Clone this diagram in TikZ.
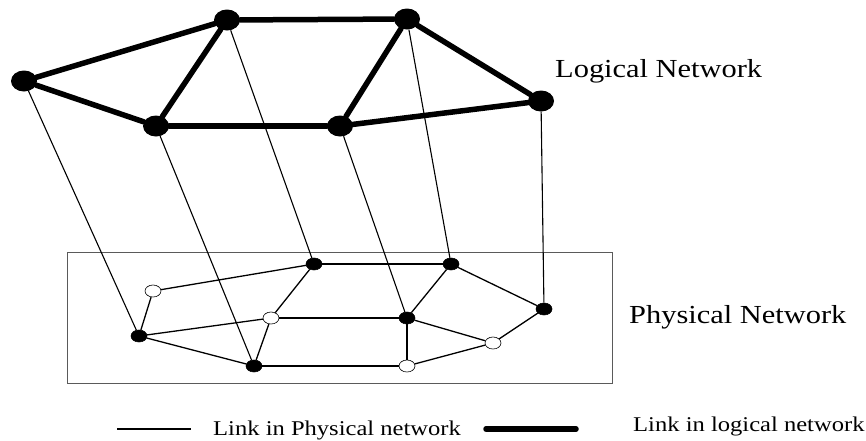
\documentclass[tikz,border=0pt]{standalone}
\usepackage{fontspec}
\setmainfont{Liberation Serif}
\newfontfamily\labelfont[FakeStretch=1.17]{Liberation Serif}
\usepackage{tikz}
\usetikzlibrary{shapes.geometric}
\definecolor{framegray}{RGB}{90,90,90}

\begin{document}
\begin{tikzpicture}[x=1pt,y=-1pt,
    lognode/.style={ellipse, fill=black, minimum width=26pt, minimum height=21pt, inner sep=0pt},
    phynode/.style={ellipse, draw=black, fill=black, line width=0.6pt, minimum width=16pt, minimum height=12pt, inner sep=0pt},
    relaynode/.style={phynode, fill=white},
    loglink/.style={line width=5.5pt, line cap=round},
    phylink/.style={line width=1.3pt},
    maplink/.style={line width=1.1pt},
    netlabel/.style={anchor=base west, inner sep=0pt, font=\labelfont\fontsize{26}{30}\selectfont},
    keylabel/.style={anchor=base west, inner sep=0pt, font=\labelfont\fontsize{21}{25}\selectfont}]
    \useasboundingbox (0,0) rectangle (866,440);

    % physical network frame
    \draw[framegray, line width=1pt] (67,252) rectangle (612,383);

    % logical nodes
    \node[lognode] (L1) at (24,81) {};
    \node[lognode] (L2) at (227,20) {};
    \node[lognode] (L3) at (407,19) {};
    \node[lognode] (L4) at (541,101) {};
    \node[lognode] (L5) at (340,126) {};
    \node[lognode] (L6) at (156,126) {};

    % physical nodes
    \node[phynode] (P1) at (314,264) {};
    \node[phynode] (P2) at (451,264) {};
    \node[relaynode] (P3) at (153,291) {};
    \node[phynode] (P4) at (544,309) {};
    \node[relaynode] (P5) at (271,318) {};
    \node[phynode] (P6) at (407,318) {};
    \node[phynode] (P7) at (139,336) {};
    \node[relaynode] (P8) at (493,343) {};
    \node[phynode] (P9) at (254,366) {};
    \node[relaynode] (P10) at (407,366) {};

    % links in logical network
    \draw[loglink] (L1) -- (L2);
    \draw[loglink] (L2) -- (L3);
    \draw[loglink] (L3) -- (L4);
    \draw[loglink] (L4) -- (L5);
    \draw[loglink] (L5) -- (L6);
    \draw[loglink] (L6) -- (L1);
    \draw[loglink] (L2) -- (L6);
    \draw[loglink] (L3) -- (L5);

    % links in physical network
    \draw[phylink] (P1) -- (P2);
    \draw[phylink] (P3) -- (P1);
    \draw[phylink] (P5) -- (P1);
    \draw[phylink] (P2) -- (P6);
    \draw[phylink] (P2) -- (P4);
    \draw[phylink] (P3) -- (P7);
    \draw[phylink] (P7) -- (P5);
    \draw[phylink] (P7) -- (P9);
    \draw[phylink] (P5) -- (P9);
    \draw[phylink] (P5) -- (P6);
    \draw[phylink] (P6) -- (P10);
    \draw[phylink] (P6) -- (P8);
    \draw[phylink] (P9) -- (P10);
    \draw[phylink] (P10) -- (P8);
    \draw[phylink] (P8) -- (P4);

    % mapping of logical onto physical nodes
    \draw[maplink] (L1) -- (P7);
    \draw[maplink] (L2) -- (P1);
    \draw[maplink] (L3) -- (P2);
    \draw[maplink] (L4) -- (P4);
    \draw[maplink] (L5) -- (P6);
    \draw[maplink] (L6) -- (P9);

    % labels
    \node[netlabel] (logtitle) at (555,77) {Logical Network};
    \node[netlabel] (phytitle) at (629,323) {Physical Network};

    % legend
    \coordinate (thinA) at (117,429);
    \coordinate (thinB) at (191,429);
    \coordinate (thickA) at (486,429);
    \coordinate (thickB) at (576,429);
    \draw[maplink] (thinA) -- (thinB);
    \draw[loglink] (thickA) -- (thickB);
    \node[keylabel] (phykey) at (213,435) {Link in Physical network};
    \node[keylabel] (logkey) at (633,431) {Link in logical network};
\end{tikzpicture}
\end{document}
